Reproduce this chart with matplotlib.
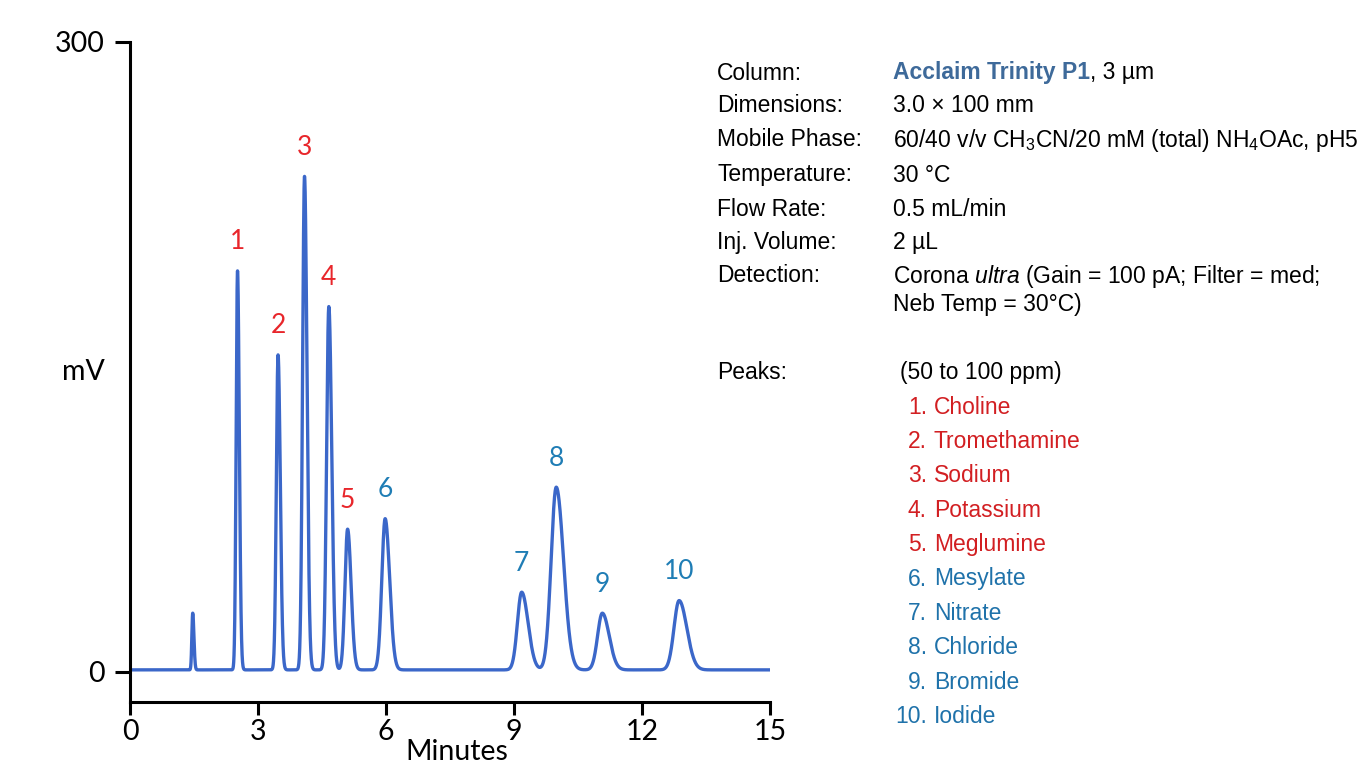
import numpy as np
import matplotlib
matplotlib.use("Agg")
import matplotlib.pyplot as plt

# peak table (minutes, mV above baseline, widths in min)
peak_ids = ["", "1", "2", "3", "4", "5", "6", "7", "8", "9", "10"]
ret_times = [1.47, 2.52, 3.47, 4.09, 4.66, 5.10, 5.98, 9.18, 9.99, 11.07, 12.87]
heights = [27, 190, 150, 235, 173, 67, 72, 37, 87, 27, 33]
sigma_left = [0.020, 0.032, 0.040, 0.045, 0.052, 0.062, 0.078, 0.10, 0.12, 0.11, 0.12]
sigma_right = [0.028, 0.042, 0.052, 0.058, 0.068, 0.082, 0.105, 0.15, 0.17, 0.16, 0.18]
baseline = 1.0

label_colors = ["none"] + ["#e8262b"] * 5 + ["#1f7db5"] * 5

cond_names = ["Column:", "Dimensions:", "Mobile Phase:", "Temperature:",
              "Flow Rate:", "Inj. Volume:", "Detection:"]
cond_values = [None, "3.0 \u00d7 100 mm",
               r"60/40 v/v CH$_3$CN/20 mM (total) NH$_4$OAc, pH5",
               "30 \u00b0C", "0.5 mL/min", "2 \u00b5L",
               r"Corona $\mathit{ultra}$ (Gain = 100 pA; Filter = med;"]

analytes = ["Choline", "Tromethamine", "Sodium", "Potassium", "Meglumine",
            "Mesylate", "Nitrate", "Chloride", "Bromide", "Iodide"]
analyte_colors = ["#d21f22"] * 5 + ["#1f72aa"] * 5

plt.rcParams["mathtext.fontset"] = "custom"
plt.rcParams["mathtext.rm"] = "Liberation Sans"
plt.rcParams["mathtext.it"] = "Liberation Sans:italic"

W, H = 1364, 767
fig = plt.figure(figsize=(W / 100, H / 100), dpi=100)
ax = fig.add_axes([130 / W, 1 - 702 / H, 640 / W, 660 / H])

t = np.linspace(0, 15, 6001)
signal = np.full_like(t, baseline)
for rt, h, sl, sr in zip(ret_times, heights, sigma_left, sigma_right):
    s = np.where(t < rt, sl, sr)
    signal += h * np.exp(-0.5 * ((t - rt) / s) ** 2)

ax.plot(t, signal, color="#3b67c9", lw=2.4, solid_joinstyle="round")

for pid, rt, h, c in zip(peak_ids, ret_times, heights, label_colors):
    if pid:
        ax.annotate(pid, (rt, h + baseline), xytext=(0, 21), textcoords="offset points",
                    ha="center", va="center", color=c, fontsize=19, family="Lato")

ax.set_xlim(0, 15)
ax.set_ylim(-14.3, 300)
ax.set_xticks([0, 3, 6, 9, 12, 15])
ax.set_yticks([0, 300])
for side in ["top", "right"]:
    ax.spines[side].set_visible(False)
for side in ["left", "bottom"]:
    ax.spines[side].set_linewidth(2.2)
ax.tick_params(axis="both", width=2.2, labelsize=20.5)
ax.tick_params(axis="x", length=9, pad=3)
ax.tick_params(axis="y", length=11, pad=7)
for lab in ax.get_xticklabels() + ax.get_yticklabels():
    lab.set_family("Lato")
ax.set_xlabel("Minutes", fontsize=20.5, family="Lato", va="center")
ax.xaxis.set_label_coords(0.51, -0.076)
ax.set_ylabel("mV", fontsize=20.5, family="Lato", rotation=0, va="center", ha="center")
ax.yaxis.set_label_coords(-0.073, 0.5)


def put(x, y, s, **kw):
    fig.text(x / W, 1 - y / H, s, va="center", fontsize=16.5, family="Liberation Sans", **kw)


rows_y = [73, 106, 140, 175, 209, 242, 276]
for name, val, y in zip(cond_names, cond_values, rows_y):
    put(717, y, name)
    if val is not None:
        put(893, y, val)

col = fig.text(893 / W, 1 - 73 / H, "Acclaim Trinity P1", va="center", fontsize=16.5,
               family="Liberation Sans", weight="bold", color="#3e6a9a")
fig.canvas.draw()
bb = col.get_window_extent()
fig.text(bb.x1 / W, 1 - 73 / H, ", 3 \u00b5m", va="center", fontsize=16.5, family="Liberation Sans")
put(893, 305, "Neb Temp = 30\u00b0C)")

put(717, 373, "Peaks:")
put(900, 373, "(50 to 100 ppm)")
list_y0 = 407
for i, (name, c) in enumerate(zip(analytes, analyte_colors)):
    y = list_y0 + i * 34.4
    put(927, y, f"{i + 1}.", ha="right", color=c)
    put(934, y, name, color=c)

fig.savefig("out.png", dpi=100)
